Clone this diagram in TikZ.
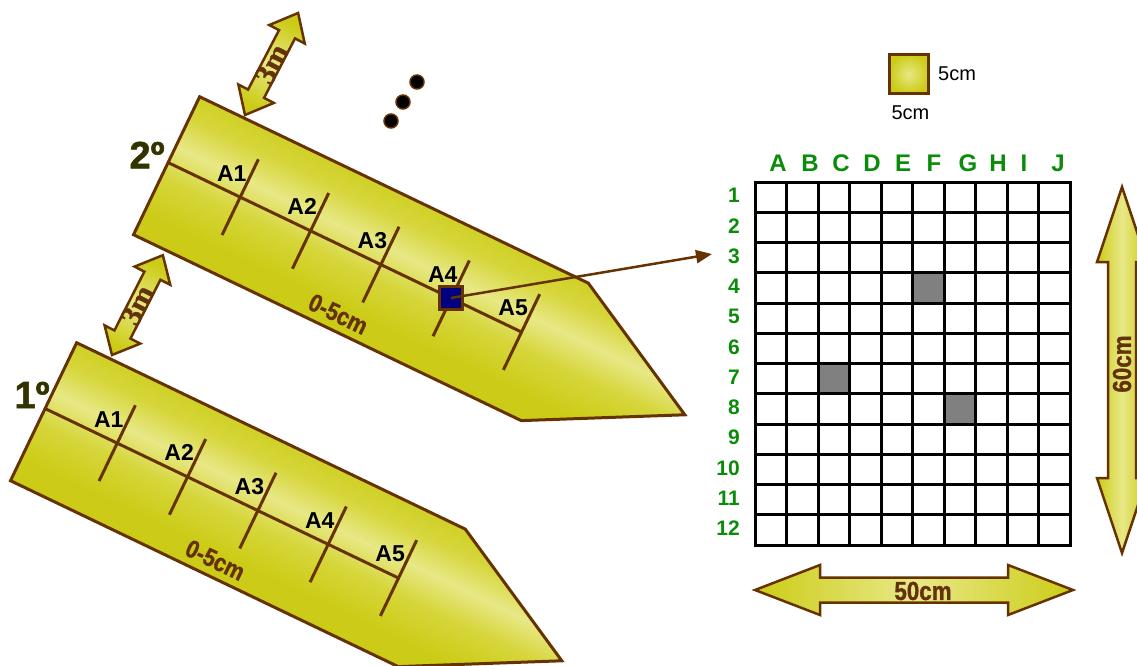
\documentclass[tikz,border=0pt]{standalone}
\usepackage{fontspec}
\setmainfont{Liberation Sans}
\newfontfamily\serifbold[FakeBold=1.2]{Liberation Serif}
\newfontfamily\condsans[FakeStretch=0.86, FakeBold=1.2]{Liberation Sans}
\newfontfamily\heavysans[FakeBold=1.5]{Liberation Sans}
\usetikzlibrary{arrows.meta,calc}
\definecolor{ydark}{RGB}{204,204,24}
\definecolor{ymid}{RGB}{214,214,60}
\definecolor{ylight}{RGB}{232,232,135}
\definecolor{brn}{RGB}{102,51,0}
\definecolor{txtbrn}{RGB}{100,50,10}
\definecolor{grn}{RGB}{10,140,10}
\definecolor{olivetxt}{RGB}{51,51,0}
\definecolor{navysq}{RGB}{0,0,128}
\definecolor{cellgray}{RGB}{128,128,128}
\pgfdeclareverticalshading{stripshade}{100bp}{color(0bp)=(ydark); color(41bp)=(ydark);
  color(46bp)=(ymid); color(50bp)=(ylight); color(54bp)=(ymid); color(59bp)=(ydark); color(100bp)=(ydark)}
\newcommand\dblarrow[5]{%
  \path[#1] (0,0) -- (#3,#4) -- (#3,#5) -- ({#2-#3},#5) -- ({#2-#3},#4) -- (#2,0)
    -- ({#2-#3},-#4) -- ({#2-#3},-#5) -- (#3,-#5) -- (#3,-#4) -- cycle;}
\tikzset{
  fieldfill/.style={draw=brn, line width=3pt, shading=stripshade, shading angle=-25.6},
  brnline/.style={draw=brn, line width=3pt},
  alab/.style={font=\bfseries\fontsize{23}{23}\selectfont, inner sep=0pt},
  cmlab/.style={font=\condsans\bfseries\fontsize{25}{25}\selectfont, text=txtbrn, inner sep=0pt},
  ordlab/.style={font=\heavysans\bfseries\fontsize{38}{38}\selectfont, text=olivetxt, inner sep=0pt},
  arrowfill/.style={draw=brn, line width=2.5pt, top color=ydark, bottom color=ydark,
    middle color=ylight},
  arrowtxt/.style={font=\condsans\bfseries\fontsize{26}{26}\selectfont, text=txtbrn, inner sep=0pt},
  threem/.style={font=\serifbold\bfseries\fontsize{30}{30}\selectfont, text=txtbrn, inner sep=0pt},
  gridline/.style={draw=black, line width=3pt, line cap=rect},
  collab/.style={font=\bfseries\fontsize{24}{24}\selectfont, text=grn, inner sep=0pt},
  rowlab/.style={font=\bfseries\fontsize{21}{21}\selectfont, text=grn, inner sep=0pt, anchor=east},
  legtxt/.style={font=\fontsize{20}{20}\selectfont, inner sep=0pt},
  dotnode/.style={circle, fill=black, draw=brn, line width=1.5pt, minimum size=14pt, inner sep=0pt},
  sqbox/.style={draw=brn, fill=navysq, line width=2.5pt, minimum size=23pt, inner sep=0pt},
  legbox/.style={draw=brn, line width=3pt, minimum size=39pt, inner sep=0pt,
    inner color=ylight, outer color=ydark},
  field/.pic={
    \path[fieldfill] (-1,-73) -- (430,-73) -- (574,4) -- (429,80) -- (-1,80) -- cycle;
    \draw[brnline] (-1,0) -- (391,0);
    \foreach \t/\n in {79/1,157/2,235/3,313/4,391/5} {
      \draw[brnline] (\t,-42) -- (\t,42);
      \node[alab] at (\t-18,-18) {A\n};
    }
    \node[cmlab, rotate=-25.62] at (218,63) {0-5cm};
  }
}
\begin{document}
\begin{tikzpicture}[x=1pt,y=-1pt]
\useasboundingbox (0,0) rectangle (1137,666);
\clip (0,0) rectangle (1137,666);
% strips
\pic[rotate=-25.62] at (46,409) {field};
\pic[rotate=-25.62] at (169,163) {field};
\node[ordlab] (ord2) at (147,155) {2º};
\node[ordlab] (ord1) at (32,395) {1º};
% 3m arrows
\begin{scope}[shift={(245,115)}, rotate=62.5]
  \dblarrow{arrowfill, shading angle=-27.5}{115}{24}{20}{9}
  \node[threem, rotate=62.5] (m3a) at (57.5,0) {3m};
\end{scope}
\begin{scope}[shift={(112,355)}, rotate=63]
  \dblarrow{arrowfill, shading angle=-27}{112}{23}{20}{9}
  \node[threem, rotate=63] (m3b) at (56,0) {3m};
\end{scope}
% dots
\node[dotnode] (d1) at (417,82) {};
\node[dotnode] (d2) at (403,102) {};
\node[dotnode] (d3) at (391,121) {};
% grid cells
\fill[cellgray] (912.5,272.75) rectangle (944,303);
\fill[cellgray] (818,363.5) rectangle (849.5,393.75);
\fill[cellgray] (944,393.75) rectangle (975.5,424);
\foreach \c in {0,...,10} \draw[gridline] ({755+31.5*\c},182) -- ({755+31.5*\c},545);
\foreach \r in {0,...,12} \draw[gridline] (755,{182+30.25*\r}) -- (1070,{182+30.25*\r});
\foreach \l/\x in {A/778,B/810,C/841,D/872,E/903,F/934,G/968,H/998,I/1024,J/1058}
  \node[collab] (col\l) at (\x,163) {\l};
\foreach \r in {1,...,12}
  \node[rowlab] (row\r) at (740,{182+30.25*(\r-0.5)-1.5}) {\r};
% legend
\node[legbox] (leg) at (909,74) {};
\node[legtxt, anchor=west] (legr) at (938,73.5) {5cm};
\node[legtxt] (legb) at (910.5,113) {5cm};
% A4 sample and connector
\node[sqbox] (sq) at (451,298) {};
\coordinate (gridin) at (712,254);
\draw[brn, line width=2.5pt, -{Triangle[length=16pt,width=13pt]}] (sq.center) -- (gridin);
% 60cm arrow
\begin{scope}[shift={(1122,553)}, rotate=90]
  \dblarrow{arrowfill, shading angle=90}{366}{75}{25}{14}
  \node[arrowtxt, rotate=90] (t60) at (189,0) {60cm};
\end{scope}
% 50cm arrow
\begin{scope}[shift={(755,590)}]
  \dblarrow{arrowfill, shading angle=90}{318}{65}{25}{12.5}
  \node[arrowtxt] (t50) at (168,1) {50cm};
\end{scope}
\end{tikzpicture}
\end{document}
